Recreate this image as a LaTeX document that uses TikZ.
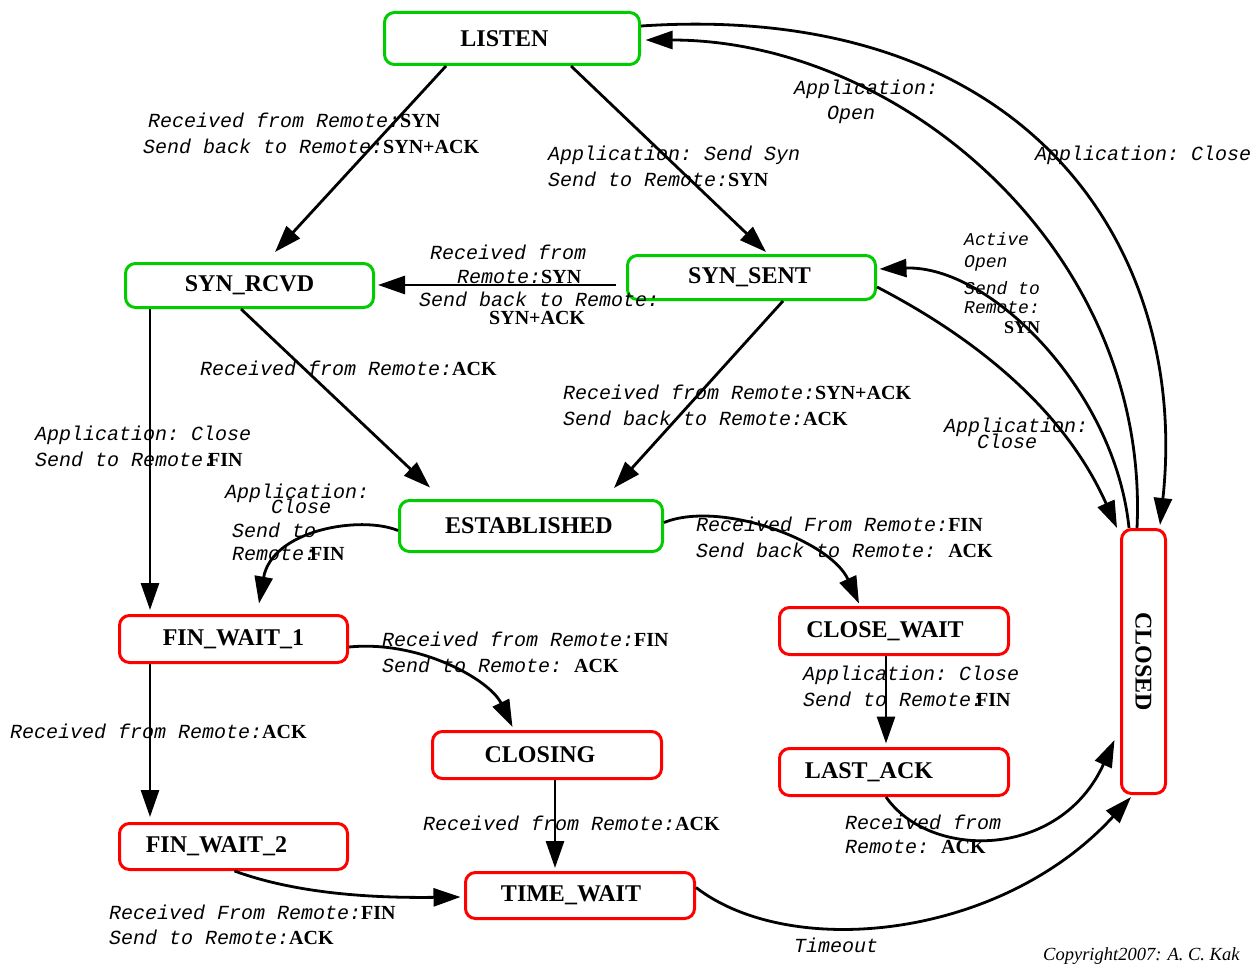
\documentclass[tikz,border=0pt]{standalone}
\usepackage{fontspec}
\setmainfont{Liberation Serif}
\setmonofont{Liberation Mono}
\usetikzlibrary{arrows.meta}
\definecolor{StateGreen}{HTML}{00CC00}
\definecolor{StateRed}{HTML}{FF0000}
\newcommand{\pkt}[1]{{\normalfont\bfseries #1}}

\begin{document}
\begin{tikzpicture}[x=1pt,y=-1pt,
    state/.style={draw=#1, line width=3pt, rounded corners=10pt, inner sep=0pt,
      font=\fontsize{24}{28}\selectfont\bfseries},
    flow/.style={line width=2.8pt, -{Triangle[length=27pt,width=18pt]}},
    msg/.style={inner sep=0pt, anchor=base west, align=left,
      font=\fontsize{20}{26}\selectfont\ttfamily\itshape}]
  \useasboundingbox (0,0) rectangle (1260,966);
  \foreach \n/\x/\y/\w/\h/\col/\dx/\t in {
    listen/512/38.5/255/52/StateGreen/15/LISTEN,
    synrcvd/249.5/285.5/248/44/StateGreen/0/SYN\_RCVD,
    synsent/751.5/277.5/248/44/StateGreen/4/SYN\_SENT,
    established/531/526/263/51/StateGreen/4/ESTABLISHED,
    finwait1/233.5/639/228/47/StateRed/0/FIN\_WAIT\_1,
    closewait/894/631/229/47/StateRed/18/CLOSE\_WAIT,
    closing/547/755/229/47/StateRed/14/CLOSING,
    lastack/894/772/229/47/StateRed/50/LAST\_ACK,
    finwait2/233.5/846.5/228/46/StateRed/34/FIN\_WAIT\_2,
    timewait/580/895.5/229/46/StateRed/18/TIME\_WAIT}
  {
    \node[state=\col, minimum width=\w pt, minimum height=\h pt] (\n) at (\x,\y) {\t\hspace*{\dx pt}};
  }
  \node[state=StateRed, minimum width=44pt, minimum height=264pt] (closed) at (1143.5,661.5) {\rotatebox{-90}{CLOSED}};

  \draw[flow] ([xshift=-66pt]listen.south) -- ([xshift=25.5pt,yshift=10pt]synrcvd.north);
  \draw[flow] ([xshift=59pt]listen.south) -- ([xshift=14.5pt,yshift=2pt]synsent.north);
  \draw[flow] ([xshift=-10.5pt,yshift=-7.5pt]synsent.west) -- ([xshift=3pt,yshift=0.5pt]synrcvd.east);
  \draw[flow] ([xshift=-8.5pt]synrcvd.south) -- ([xshift=-101pt,yshift=11.5pt]established.north);
  \draw[flow] ([xshift=31.5pt]synsent.south) -- ([xshift=83pt,yshift=11pt]established.north);
  \draw[flow] ([xshift=-99.5pt]synrcvd.south) -- ([xshift=-83.5pt,yshift=4pt]finwait1.north);
  \draw[flow] ([yshift=-4.5pt]established.west) .. controls (360,515) and (272,530) .. ([xshift=25.5pt,yshift=10.5pt]finwait1.north);
  \draw[flow] ([yshift=3.5pt]established.east) .. controls (720,500) and (830,540) .. ([xshift=-35pt,yshift=2.5pt]closewait.north);
  \draw[flow] ([xshift=-8pt]closewait.south) -- ([xshift=-8pt,yshift=3.5pt]lastack.north);
  \draw[flow] ([xshift=-8pt]lastack.south) .. controls (930,860) and (1060,860) .. ([xshift=-5.5pt,yshift=-78.5pt]closed.west);
  \draw[flow] ([yshift=-8pt]finwait1.east) .. controls (420,640) and (490,680) .. ([xshift=-34.5pt,yshift=3pt]closing.north);
  \draw[flow] ([xshift=-83.5pt]finwait1.south) -- ([xshift=-83.5pt,yshift=5pt]finwait2.north);
  \draw[flow] ([xshift=8pt]closing.south) -- ([xshift=-25pt,yshift=3pt]timewait.north);
  \draw[flow] ([xshift=1pt]finwait2.south) .. controls (300,895) and (380,898) .. ([xshift=-3.5pt,yshift=-1.5pt]timewait.west);
  \draw[flow] ([yshift=8pt]timewait.east) .. controls (790,960) and (1000,940) .. ([xshift=-12.5pt,yshift=-2pt]closed.south);
  \draw[flow] ([yshift=-9.5pt]synsent.east) .. controls (960,330) and (1060,400) .. ([xshift=-3pt]closed.north west);
  \draw[flow] ([xshift=-14.5pt]closed.north) .. controls (1115,390) and (990,265) .. ([xshift=2.5pt,yshift=8.5pt]synsent.east);
  \draw[flow] ([xshift=-6.5pt]closed.north) .. controls (1150,250) and (900,40) .. ([xshift=4.5pt,yshift=-1.5pt]listen.east);
  \draw[flow] ([yshift=12.5pt]listen.east) .. controls (1030,0) and (1190,250) .. ([xshift=16.5pt,yshift=3pt]closed.north);

  \node[msg] (l-listen-rcvd) at (143,153) {\hspace*{5pt}Received from Remote:\pkt{SYN}\\Send back to Remote:\pkt{SYN+ACK}};
  \node[msg] (l-listen-sent) at (548,186) {Application: Send Syn\\Send to Remote:\pkt{SYN}};
  \node[msg] (l-sent-rcvd) at (419,324) {\hspace*{11pt}Received from\\[-2pt]\hspace*{38pt}Remote:\pkt{SYN}\\[-3pt]Send back to Remote:\\[-8pt]\hspace*{70pt}\pkt{SYN+ACK}};
  \node[msg] (l-rcvd-est) at (200,375) {Received from Remote:\pkt{ACK}};
  \node[msg] (l-sent-est) at (563,425) {Received from Remote:\pkt{SYN+ACK}\\Send back to Remote:\pkt{ACK}};
  \node[msg] (l-rcvd-fw1) at (35,466) {Application: Close\\Send to Remote:\kern-7pt\pkt{FIN}};
  \node[msg] (l-est-fw1) at (225,560) {Application:\\[-11pt]\hspace*{46pt}Close\\[-2pt]\hspace*{7pt}Send to\\[-3pt]\hspace*{7pt}Remote:\kern-6pt\pkt{FIN}};
  \node[msg] (l-est-cw) at (696,557) {Received From Remote:\pkt{FIN}\\Send back to Remote: \pkt{ACK}};
  \node[msg] (l-cw-la) at (803,706) {Application: Close\\Send to Remote:\kern-7pt\pkt{FIN}};
  \node[msg] (l-la-closed) at (845,853) {Received from\\[-2pt]Remote: \pkt{ACK}};
  \node[msg] (l-fw1-closing) at (382,672) {Received from Remote:\pkt{FIN}\\Send to Remote: \pkt{ACK}};
  \node[msg] (l-fw1-fw2) at (10,738) {Received from Remote:\pkt{ACK}};
  \node[msg] (l-closing-tw) at (423,830) {Received from Remote:\pkt{ACK}};
  \node[msg] (l-fw2-tw) at (109,944) {Received From Remote:\pkt{FIN}\\[-1pt]Send to Remote:\pkt{ACK}};
  \node[msg] (l-tw-closed) at (794,952) {Timeout};
  \node[msg] (l-sent-closed) at (944,448) {Application:\\[-10pt]\hspace*{33pt}Close};
  \node[msg, font=\fontsize{18}{22}\selectfont\ttfamily\itshape] (l-closed-sent) at (964,333) {Active\\Open\\[5pt]Send to\\[-3pt]Remote:\\[-2pt]\hspace*{40pt}\pkt{SYN}};
  \node[msg] (l-closed-listen) at (794,119) {Application:\\[-1pt]\hspace*{33pt}Open};
  \node[msg] (l-listen-closed) at (1035,160) {Application: Close};
  \node[anchor=base west, inner sep=0pt, font=\fontsize{18.5}{22}\selectfont\itshape] (copyright) at (1043,960) {Copyright2007: A. C. Kak};
\end{tikzpicture}
\end{document}
